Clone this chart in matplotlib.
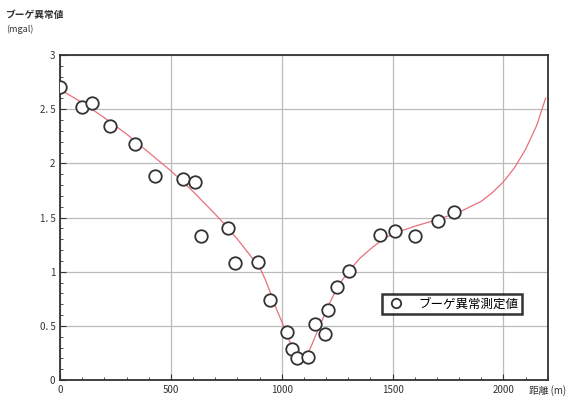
import matplotlib
matplotlib.use("Agg")
import matplotlib.pyplot as plt
from matplotlib.ticker import MultipleLocator

plt.rcParams['font.family'] = ['Noto Sans CJK JP', 'DejaVu Sans']

# measured Bouguer anomaly (distance m, mgal)
dist = [0, 100, 145, 225, 338, 428, 555, 608, 635, 757, 789, 893, 947,
        1023, 1046, 1068, 1118, 1150, 1195, 1208, 1249, 1303, 1443, 1510,
        1600, 1704, 1776]
anom = [2.70, 2.52, 2.56, 2.34, 2.18, 1.88, 1.86, 1.83, 1.33, 1.40, 1.08,
        1.09, 0.74, 0.44, 0.29, 0.20, 0.21, 0.52, 0.43, 0.65, 0.86, 1.01,
        1.34, 1.38, 1.33, 1.47, 1.55]

# fitted curve
curve_x = [0, 100, 200, 300, 400, 500, 600, 700, 750, 800, 850, 900, 925,
           950, 975, 1000, 1025, 1050, 1070, 1090, 1110, 1130, 1150, 1175,
           1200, 1225, 1250, 1275, 1300, 1350, 1400, 1450, 1500, 1600, 1700,
           1800, 1900, 1950, 2000, 2050, 2100, 2150, 2190]
curve_y = [2.68, 2.56, 2.42, 2.27, 2.10, 1.93, 1.74, 1.53, 1.42, 1.30, 1.17,
           1.04, 0.93, 0.80, 0.66, 0.54, 0.41, 0.29, 0.22, 0.19, 0.22, 0.30,
           0.40, 0.52, 0.64, 0.75, 0.85, 0.93, 1.00, 1.12, 1.21, 1.29, 1.35,
           1.42, 1.48, 1.55, 1.65, 1.73, 1.83, 1.96, 2.13, 2.35, 2.60]

xticks = [0, 500, 1000, 1500, 2000]
yticks = [0, 0.5, 1, 1.5, 2, 2.5, 3]
ylabels = ["0", "0. 5", "1", "1. 5", "2", "2. 5", "3"]

fig = plt.figure(figsize=(5.84, 4.04), dpi=100)
ax = fig.add_axes([0.103, 0.059, 0.835, 0.805])

ax.plot(curve_x, curve_y, color="#e8707c", lw=0.9, zorder=2)
ax.plot(dist, anom, "o", mfc="white", mec="#333333", mew=1.3, ms=9,
        label="ブーゲ異常測定値", zorder=3)

ax.set_xlim(0, 2200)
ax.set_ylim(0, 3)
ax.set_xticks(xticks)
ax.set_yticks(yticks)
ax.set_yticklabels(ylabels)
ax.xaxis.set_minor_locator(MultipleLocator(100))
ax.yaxis.set_minor_locator(MultipleLocator(0.1))
ax.tick_params(which="both", direction="in", labelsize=7, colors="#333333")
ax.tick_params(which="major", length=4)
ax.tick_params(which="minor", length=2)
ax.grid(True, which="major", color="#bbbbbb", lw=0.9)
for s in ax.spines.values():
    s.set_color("#333333")
    s.set_linewidth(1.3)

fig.text(0.01, 0.955, "ブーゲ異常値", fontsize=7, color="#333333", weight="bold")
fig.text(0.01, 0.92, "(mgal)", fontsize=6.5, color="#333333")
fig.text(0.905, 0.025, "距離 (m)", fontsize=7, color="#333333")

leg = ax.legend(loc="upper left", bbox_to_anchor=(0.66, 0.265), fontsize=9,
                frameon=True, fancybox=False, handletextpad=1.0,
                borderpad=0.3, borderaxespad=0, markerscale=0.75,
                handlelength=1.6)
leg.get_frame().set_edgecolor("black")
leg.get_frame().set_linewidth(1.8)

fig.savefig("out.png", dpi=100)
